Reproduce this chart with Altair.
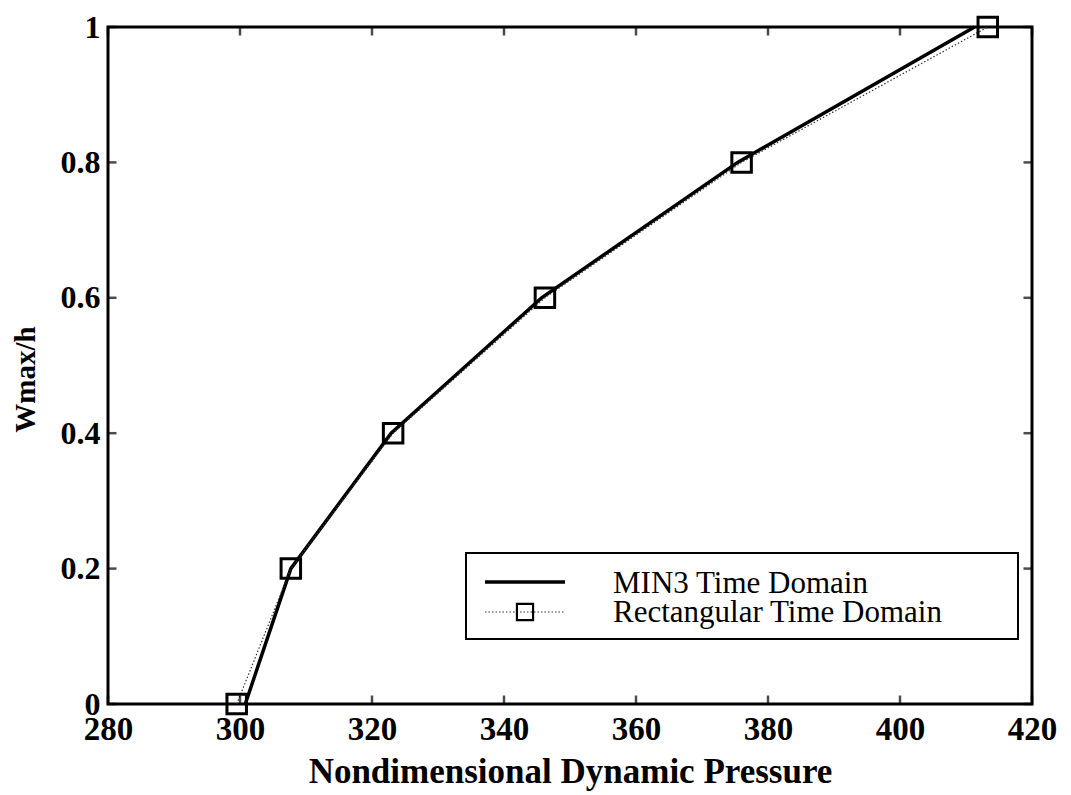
import altair as alt
import pandas as pd

# Data
levels = [0.0, 0.2, 0.4, 0.6, 0.8, 1.0]
q_min3 = [300.8, 307.7, 322.9, 345.7, 375.4, 411.3]
q_rect = [299.5, 307.7, 323.2, 346.2, 376.0, 413.3]
x_ticks = [280, 300, 320, 340, 360, 380, 400, 420]
y_ticks = [0, 0.2, 0.4, 0.6, 0.8, 1.0]
legend_labels = ["MIN3 Time Domain", "Rectangular Time Domain"]

W, H = 924, 677
FONT = "Liberation Serif"

df_min3 = pd.DataFrame({"q": q_min3, "w": levels})
df_rect = pd.DataFrame({"q": q_rect, "w": levels})
df_xt = pd.DataFrame({"q": x_ticks})
df_yt = pd.DataFrame({"w": y_ticks})

xs = alt.Scale(domain=[280, 420], nice=False)
ys = alt.Scale(domain=[0, 1], nice=False)

xax = alt.Axis(values=x_ticks, format="d", title="Nondimensional Dynamic Pressure",
               labelFont=FONT, labelFontWeight="bold", labelFontSize=33, labelColor="black",
               titleFont=FONT, titleFontWeight="bold", titleFontSize=35, titleColor="black",
               domain=False, ticks=False, grid=False, labelPadding=9, titlePadding=8,
               labelFlush=False)
yax = alt.Axis(values=y_ticks, format="~g", title="Wmax/h",
               labelFont=FONT, labelFontWeight="bold", labelFontSize=32, labelColor="black",
               titleFont=FONT, titleFontWeight="bold", titleFontSize=29, titleColor="black",
               domain=False, ticks=False, grid=False, labelPadding=8, titlePadding=20,
               titleY=352, labelFlush=False)

base_x = alt.X("q:Q", scale=xs, axis=xax)
base_y = alt.Y("w:Q", scale=ys, axis=yax)

solid = alt.Chart(df_min3).mark_line(color="black", strokeWidth=3.5).encode(
    x=base_x, y=base_y)
dotted = alt.Chart(df_rect).mark_line(color="#333", strokeWidth=1.2, strokeDash=[1.5, 2]).encode(
    x=alt.X("q:Q", scale=xs), y=alt.Y("w:Q", scale=ys))
pts = alt.Chart(df_rect).mark_point(shape="square", size=380, filled=False, color="black",
                                    strokeWidth=3, opacity=1).encode(
    x=alt.X("q:Q", scale=xs), y=alt.Y("w:Q", scale=ys))

# inward ticks on all four sides
tk = dict(color="black", thickness=2.5, size=9)
xb = alt.Chart(df_xt).mark_tick(orient="vertical", **tk).encode(
    x=alt.X("q:Q", scale=xs), y=alt.value(H - 4))
xt = alt.Chart(df_xt).mark_tick(orient="vertical", **tk).encode(
    x=alt.X("q:Q", scale=xs), y=alt.value(4))
yl = alt.Chart(df_yt).mark_tick(orient="horizontal", **tk).encode(
    y=alt.Y("w:Q", scale=ys), x=alt.value(4))
yr = alt.Chart(df_yt).mark_tick(orient="horizontal", **tk).encode(
    y=alt.Y("w:Q", scale=ys), x=alt.value(W - 4))

# legend (manual)
lx0, ly0, lx1, ly1 = 358, 526, 910, 612
one = pd.DataFrame({"a": [0]})
leg_box = alt.Chart(one).mark_rect(
    fill="white", stroke="black", strokeWidth=2).encode(
    x=alt.value(lx0), x2=alt.value(lx1), y=alt.value(ly0), y2=alt.value(ly1))
leg_solid = alt.Chart(one).mark_rule(color="black", strokeWidth=3.5).encode(
    x=alt.value(377), x2=alt.value(457), y=alt.value(555))
leg_dot = alt.Chart(one).mark_rule(
    color="#333", strokeWidth=1.2, strokeDash=[1.5, 2]).encode(
    x=alt.value(377), x2=alt.value(457), y=alt.value(585))
leg_pt = alt.Chart(one).mark_point(
    shape="square", size=260, filled=False, color="black", strokeWidth=2.2, opacity=1).encode(
    x=alt.value(417), y=alt.value(585))
leg_text = alt.Chart(pd.DataFrame({"label": legend_labels, "yy": [566, 595]})).mark_text(
    align="left", baseline="alphabetic", font=FONT, fontSize=31, color="black").encode(
    x=alt.value(505), y=alt.Y("yy:Q", scale=None), text="label:N")

chart = alt.layer(solid, dotted, pts, xb, xt, yl, yr,
                  leg_box, leg_solid, leg_dot, leg_pt, leg_text).properties(
    width=W, height=H, background="white",
    autosize=alt.AutoSizeParams(type="none"),
    padding={"left": 100, "top": 19, "right": 31, "bottom": 90},
).configure_view(stroke="black", strokeWidth=3)

chart.save("out.html", embed_options={"renderer": "svg", "actions": False})
